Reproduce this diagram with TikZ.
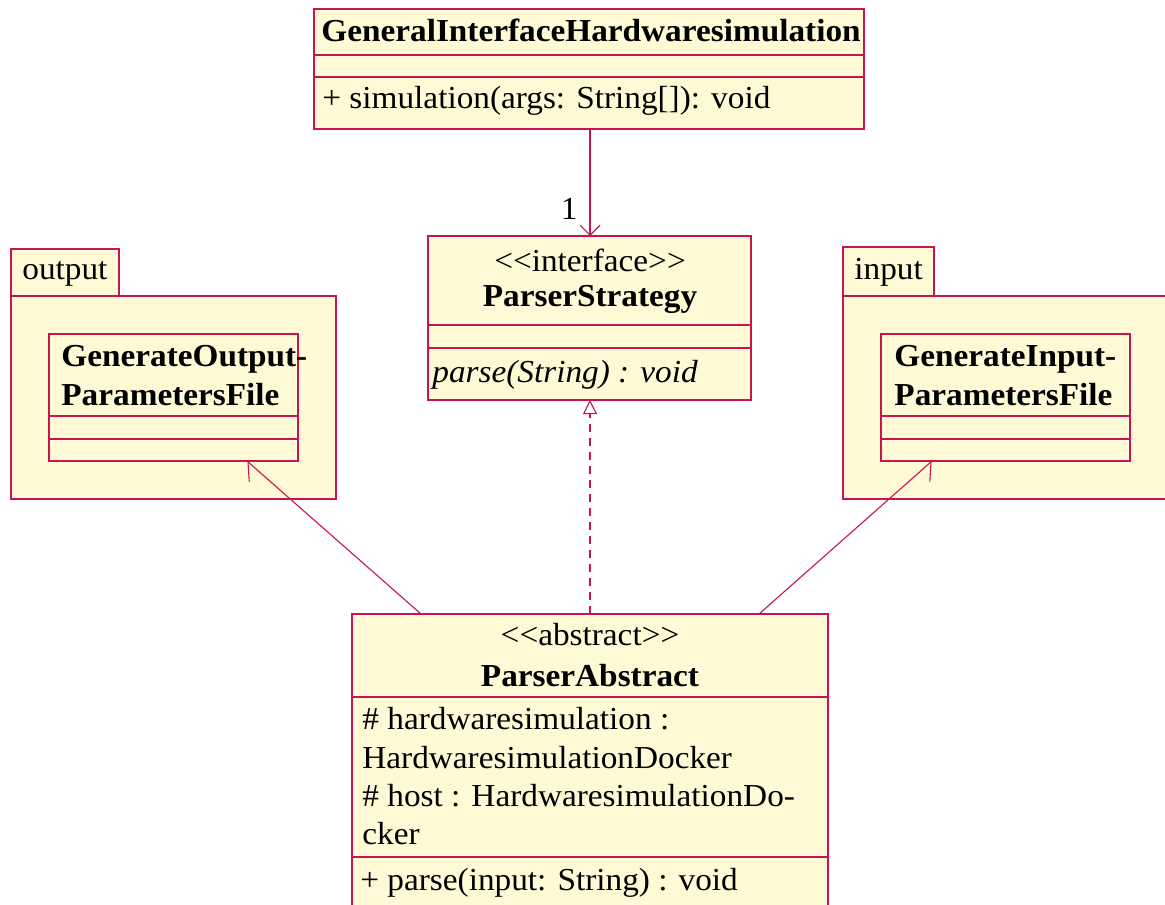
\documentclass[tikz,border=0pt]{standalone}
\usepackage{fontspec}
\setmainfont{Liberation Serif}[FakeStretch=1.04]
\usetikzlibrary{arrows.meta,fit}
\definecolor{umlred}{RGB}{200,20,80}
\definecolor{umlfill}{RGB}{255,249,214}
\begin{document}
\begin{tikzpicture}[x=0.5pt,y=-0.5pt,
  box/.style={draw=umlred, fill=umlfill, line width=0.6pt, inner sep=0pt},
  sep/.style={draw=umlred, line width=0.6pt},
  txt/.style={inner sep=0pt, font=\fontsize{16}{19.25}\selectfont},
  conn/.style={draw=umlred, line width=0.55pt},
  assoc/.style={conn, -{Straight Barb[length=5pt,width=10pt]}},
  real/.style={conn, dashed, dash pattern=on 4pt off 3pt, -{Triangle[open, length=7pt, width=7pt, fill=white]}},
  halfl/.style={conn, -{Straight Barb[left, length=7pt, width=14pt]}},
  halfr/.style={conn, -{Straight Barb[right, length=7pt, width=14pt]}}]
\fill[white] (0,0) rectangle (1165,904);
\useasboundingbox (0,0) rectangle (1165,904);

% top class
\node[box, fit={(314,9)(864,129)}] (gi) {};
\draw[sep] (gi.west |- 0,55) -- (gi.east |- 0,55);
\draw[sep] (gi.west |- 0,77) -- (gi.east |- 0,77);
\node[txt, anchor=base] (giT) at (591,42) {\bfseries GeneralInterfaceHardwaresimulation};
\node[txt, anchor=base west] (giM) at (322,109) {+ simulation(args: String[]): void};

% ParserStrategy
\node[box, fit={(428,236)(751,400)}] (ps) {};
\draw[sep] (ps.west |- 0,325) -- (ps.east |- 0,325);
\draw[sep] (ps.west |- 0,348) -- (ps.east |- 0,348);
\node[txt, anchor=base] (psS) at (590,271) {{<}{<}interface{>}{>}};
\node[txt, anchor=base] (psT) at (590,306) {\bfseries ParserStrategy};
\node[txt, anchor=base west] (psM) at (432,382) {\itshape parse(String) : void};

% output package
\node[box, fit={(11,249)(119,296)}] (outTab) {};
\node[box, fit={(11,296)(336,499)}] (outPkg) {};
\node[txt, anchor=base west] (outL) at (22,279) {output};
\node[box, fit={(49,334)(298,461)}] (go) {};
\draw[sep] (go.west |- 0,416) -- (go.east |- 0,416);
\draw[sep] (go.west |- 0,439) -- (go.east |- 0,439);
\node[txt, anchor=base west] (goT1) at (61,366) {\bfseries GenerateOutput-};
\node[txt, anchor=base west] (goT2) at (61,405) {\bfseries ParametersFile};

% input package
\node[box, fit={(843,247)(934,296)}] (inTab) {};
\node[box, fit={(843,296)(1180,499)}] (inPkg) {};
\node[txt, anchor=base west] (inL) at (854,279) {input};
\node[box, fit={(881,334)(1130,461)}] (gin) {};
\draw[sep] (gin.west |- 0,416) -- (gin.east |- 0,416);
\draw[sep] (gin.west |- 0,439) -- (gin.east |- 0,439);
\node[txt, anchor=base west] (ginT1) at (894,366) {\bfseries GenerateInput-};
\node[txt, anchor=base west] (ginT2) at (894,405) {\bfseries ParametersFile};

% ParserAbstract
\node[box, fit={(352,614)(828,920)}] (pa) {};
\draw[sep] (pa.west |- 0,697) -- (pa.east |- 0,697);
\draw[sep] (pa.west |- 0,857) -- (pa.east |- 0,857);
\node[txt, anchor=base] (paS) at (590,645) {{<}{<}abstract{>}{>}};
\node[txt, anchor=base] (paT) at (590,686) {\bfseries ParserAbstract};
\node[txt, anchor=base west] (paA1) at (362,729) {\# hardwaresimulation :};
\node[txt, anchor=base west] (paA2) at (362,768) {HardwaresimulationDocker};
\node[txt, anchor=base west] (paA3) at (362,806) {\# host : HardwaresimulationDo-};
\node[txt, anchor=base west] (paA4) at (362,844) {cker};
\node[txt, anchor=base west] (paM) at (360,890) {+ parse(input: String) : void};

% connectors
\coordinate (giB) at (590,129);
\coordinate (psTop) at (590,236);
\coordinate (psBot) at (590,400);
\coordinate (paTop) at (590,614);
\coordinate (paL) at (421,614);
\coordinate (paR) at (759,614);
\coordinate (goTip) at (247,461);
\coordinate (ginTip) at (932,461);
\draw[assoc] (giB) -- (psTop);
\node[txt, anchor=base east] (mult) at (578,219) {1};
\draw[real] (paTop) -- (psBot);
\draw[halfl] (paL) -- (goTip);
\draw[halfr] (paR) -- (ginTip);
\end{tikzpicture}
\end{document}
